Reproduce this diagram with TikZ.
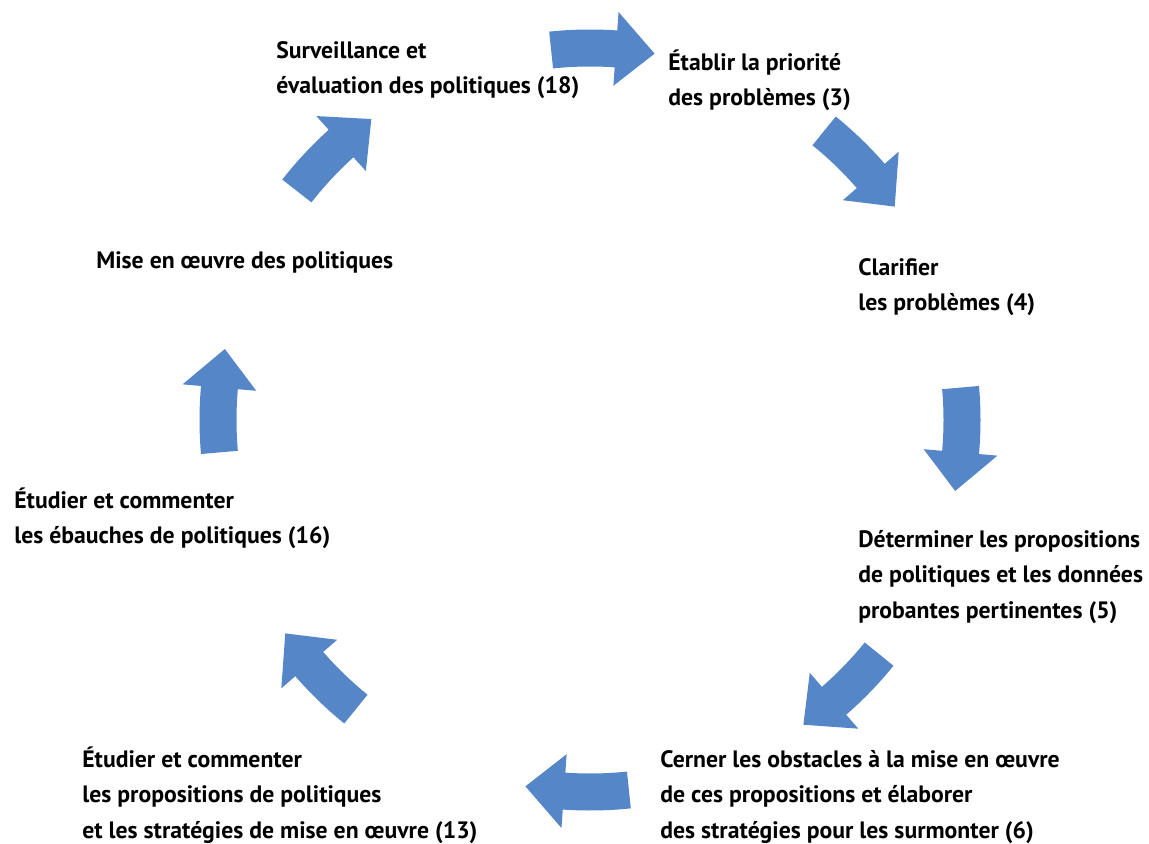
\documentclass[tikz,border=0pt]{standalone}
\usepackage{fontspec}
\setmainfont{PT Sans}
\definecolor{cycleblue}{RGB}{85,135,200}
\tikzset{
  cyclearrow/.style={fill=cycleblue},
  steplabel/.style={anchor=north west, align=left, inner sep=0pt,
    font=\fontsize{13.5pt}{20.2pt}\selectfont\bfseries}
}

\begin{document}
\begin{tikzpicture}[x=0.02cm, y=0.02cm]
  \useasboundingbox (0,0) rectangle (1149,843);
  \begin{scope}[shift={(590,423)}]
    \foreach \a [evaluate=\a as \t using \a+8, evaluate=\a as \b using \a-2,
                 evaluate=\a as \p using \a-8] in {88,43,-3,-47,-92,-137,177,134}
      \fill[cyclearrow] (\t:353.5) arc[start angle=\t, end angle=\b, radius=353.5]
        -- (\b:335) -- (\p:372) -- (\b:409) -- (\b:390.5)
        arc[start angle=\b, end angle=\t, radius=390.5] -- cycle;
  \end{scope}
  \node[steplabel] (surveil) at (276,809.8) {\strut Surveillance et\\évaluation des politiques (18)};
  \node[steplabel] (priorite) at (668,797.8) {\strut Établir la priorité\\des problèmes (3)};
  \node[steplabel] (clarifier) at (858,592.8) {\strut Clarifier\\les problèmes (4)};
  \node[steplabel] (proposer) at (858,320.8) {\strut Déterminer les propositions\\de politiques et les données\\probantes pertinentes (5)};
  \node[steplabel] (obstacles) at (660,100.8) {\strut Cerner les obstacles à la mise en œuvre\\de ces propositions et élaborer\\des stratégies pour les surmonter (6)};
  \node[steplabel] (etudeprop) at (82,100.8) {\strut Étudier et commenter\\les propositions de politiques\\et les stratégies de mise en œuvre (13)};
  \node[steplabel] (etudeebau) at (14,359.8) {\strut Étudier et commenter\\les ébauches de politiques (16)};
  \node[steplabel] (oeuvre) at (96,599.8) {\strut Mise en œuvre des politiques};
\end{tikzpicture}
\end{document}
